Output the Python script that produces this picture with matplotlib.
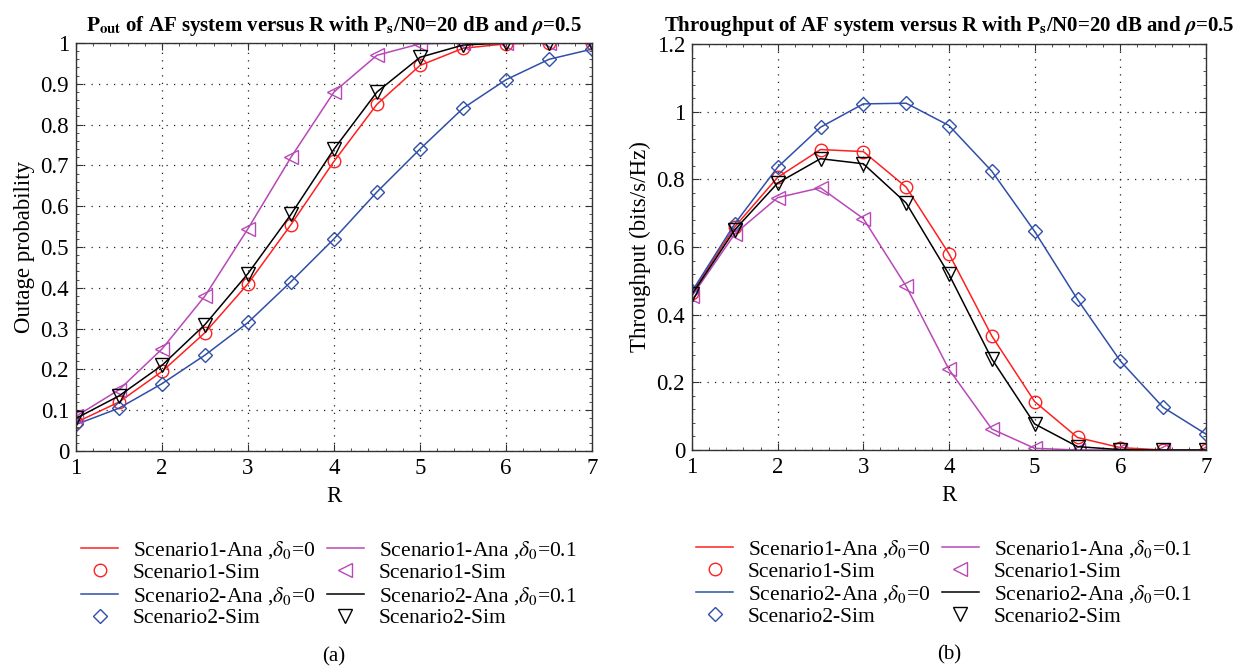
import numpy as np
import matplotlib
matplotlib.use('Agg')
import matplotlib.pyplot as plt
from matplotlib.ticker import MultipleLocator, AutoMinorLocator, FormatStrFormatter

plt.rcParams['font.family'] = ['Liberation Serif', 'DejaVu Serif']
plt.rcParams['mathtext.fontset'] = 'stix'

# 橫軸 R
R = [1, 1.5, 2, 2.5, 3, 3.5, 4, 4.5, 5, 5.5, 6, 6.5, 7]

# 中斷機率 (a)
pout_s1_d0 = [0.07, 0.12, 0.195, 0.29, 0.41, 0.555, 0.71, 0.85, 0.945, 0.987, 0.998, 1.0, 1.0]
pout_s1_d01 = [0.085, 0.15, 0.25, 0.38, 0.545, 0.72, 0.88, 0.97, 0.998, 1.0, 1.0, 1.0, 1.0]
pout_s2_d0 = [0.065, 0.105, 0.165, 0.235, 0.315, 0.415, 0.52, 0.635, 0.74, 0.84, 0.91, 0.96, 0.985]
pout_s2_d01 = [0.08, 0.135, 0.21, 0.31, 0.435, 0.58, 0.74, 0.88, 0.965, 0.995, 1.0, 1.0, 1.0]

# 吞吐量 (b)
thr_s1_d0 = [0.465, 0.66, 0.806, 0.888, 0.882, 0.777, 0.58, 0.337, 0.143, 0.037, 0.007, 0.0, 0.0]
thr_s1_d01 = [0.455, 0.639, 0.746, 0.775, 0.684, 0.484, 0.238, 0.062, 0.005, 0.0, 0.0, 0.0, 0.0]
thr_s2_d0 = [0.469, 0.669, 0.836, 0.954, 1.023, 1.025, 0.959, 0.824, 0.646, 0.445, 0.263, 0.126, 0.047]
thr_s2_d01 = [0.46, 0.651, 0.789, 0.861, 0.846, 0.73, 0.519, 0.269, 0.077, 0.01, 0.001, 0.0, 0.0]

RED = '#ff2020'
MAG = '#b848b8'
BLUE = '#2f4fa8'
BLACK = '#000000'

W, H = 1248, 670
fig = plt.figure(figsize=(W / 100, H / 100), dpi=100)


def px_axes(x0, x1, y0, y1):
    return fig.add_axes([x0 / W, 1 - y1 / H, (x1 - x0) / W, (y1 - y0) / H])


def draw_panel(ax, s1_d0, s1_d01, s2_d0, s2_d01, ymax, ystep, ylabel, title, tag):
    ms = 9
    h = []
    h += ax.plot(R, s1_d0, color=RED, lw=1.1, label=r'Scenario1-Ana ,$\delta_0$=0')
    h += ax.plot(R, s1_d0, ls='none', marker='o', mfc='none', mec=RED, ms=ms, mew=1.0,
                 label='Scenario1-Sim')
    h += ax.plot(R, s2_d0, color=BLUE, lw=1.1, label=r'Scenario2-Ana ,$\delta_0$=0')
    h += ax.plot(R, s2_d0, ls='none', marker='D', mfc='none', mec=BLUE, ms=ms - 1.5, mew=1.0,
                 label='Scenario2-Sim')
    h += ax.plot(R, s1_d01, color=MAG, lw=1.1, label=r'Scenario1-Ana ,$\delta_0$=0.1')
    h += ax.plot(R, s1_d01, ls='none', marker='<', mfc='none', mec=MAG, ms=ms + 1, mew=1.0,
                 label='Scenario1-Sim')
    h += ax.plot(R, s2_d01, color=BLACK, lw=1.1, label=r'Scenario2-Ana ,$\delta_0$=0.1')
    h += ax.plot(R, s2_d01, ls='none', marker='v', mfc='none', mec=BLACK, ms=ms + 1, mew=1.0,
                 label='Scenario2-Sim')

    ax.set_xlim(1, 7)
    ax.set_ylim(0, ymax)
    ax.xaxis.set_major_locator(MultipleLocator(1))
    ax.yaxis.set_major_locator(MultipleLocator(ystep))
    ax.xaxis.set_minor_locator(AutoMinorLocator(5))
    ax.yaxis.set_minor_locator(AutoMinorLocator(5))
    ax.yaxis.set_major_formatter(FormatStrFormatter('%g'))
    ax.tick_params(which='both', direction='in', top=True, right=True, labelsize=16.5,
                   color='#333333')
    ax.tick_params(which='major', length=5, pad=5)
    ax.tick_params(which='minor', length=2.5)
    ax.grid(True, which='major', color='#222222', ls=(0, (1, 5)), lw=0.9)
    for s in ax.spines.values():
        s.set_color('#333333')
        s.set_linewidth(1.0)

    ax.set_xlabel('R', fontsize=16.5, labelpad=5)
    ax.set_ylabel(ylabel, fontsize=16.5, labelpad=4)
    ax.set_title(title, fontsize=15, fontweight='bold', pad=9)

    ax.legend(handles=h, ncol=2, loc='upper center', bbox_to_anchor=(0.49, -0.19),
              frameon=False, fontsize=15.5, handlelength=1.7, handletextpad=0.7,
              columnspacing=0.55, labelspacing=0.08, borderpad=0)
    ax.text(0.5, -0.505, tag, transform=ax.transAxes, ha='center', va='center', fontsize=15)


ax1 = px_axes(76, 592, 43, 451)
ax2 = px_axes(692, 1206, 44, 450)

draw_panel(ax1, pout_s1_d0, pout_s1_d01, pout_s2_d0, pout_s2_d01, 1.0, 0.1,
           'Outage probability',
           r'$\mathbf{P}_{\mathbf{out}}$ of AF system versus R with $\mathbf{P}_{\mathbf{s}}$/N0=20 dB and $\boldsymbol{\rho}$=0.5',
           '(a)')
draw_panel(ax2, thr_s1_d0, thr_s1_d01, thr_s2_d0, thr_s2_d01, 1.2, 0.2,
           'Throughput (bits/s/Hz)',
           r'Throughput of AF system versus R with $\mathbf{P}_{\mathbf{s}}$/N0=20 dB and $\boldsymbol{\rho}$=0.5',
           '(b)')

fig.savefig('out.png', dpi=100)
